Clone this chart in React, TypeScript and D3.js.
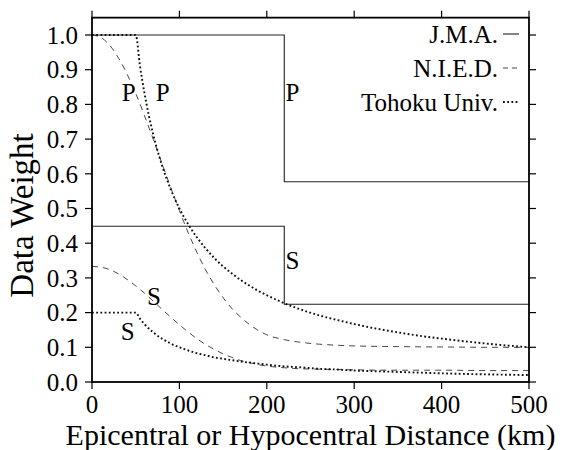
import React from "react";
import * as d3 from "d3";

// ---- data ----
const jmaDist = [0, 220, 220, 500];
const jmaP = [1.0, 1.0, 0.577, 0.577];
const jmaS = [0.449, 0.449, 0.224, 0.224];

const niedDist = [0, 10, 20, 30, 40, 50, 60, 70, 80, 90, 100, 110, 120, 130, 140, 150, 160, 170, 180, 190, 200, 220, 240, 260, 280, 300, 350, 400, 450, 500];
const niedP = [1.0, 0.993, 0.971, 0.935, 0.888, 0.832, 0.768, 0.7, 0.63, 0.561, 0.494, 0.431, 0.374, 0.323, 0.28, 0.243, 0.212, 0.187, 0.166, 0.149, 0.136, 0.122, 0.114, 0.109, 0.106, 0.104, 0.102, 0.101, 0.1, 0.1];
const niedS = [0.333, 0.331, 0.324, 0.312, 0.296, 0.277, 0.256, 0.233, 0.21, 0.187, 0.165, 0.144, 0.125, 0.108, 0.094, 0.081, 0.071, 0.062, 0.056, 0.05, 0.046, 0.041, 0.038, 0.037, 0.036, 0.035, 0.034, 0.034, 0.033, 0.033];

const tohokuDist = [0, 50, 55, 60, 70, 80, 90, 100, 110, 120, 130, 140, 150, 160, 170, 180, 190, 200, 220, 240, 260, 280, 300, 325, 350, 375, 400, 450, 500];
const tohokuP = [1.0, 1.0, 0.909, 0.833, 0.714, 0.625, 0.556, 0.5, 0.455, 0.417, 0.385, 0.357, 0.333, 0.313, 0.294, 0.278, 0.263, 0.25, 0.227, 0.208, 0.192, 0.179, 0.167, 0.154, 0.143, 0.133, 0.125, 0.111, 0.1];
const tohokuS = [0.2, 0.2, 0.182, 0.167, 0.143, 0.125, 0.111, 0.1, 0.091, 0.083, 0.077, 0.071, 0.067, 0.063, 0.059, 0.056, 0.053, 0.05, 0.045, 0.042, 0.038, 0.036, 0.033, 0.031, 0.029, 0.027, 0.025, 0.022, 0.02];

const xTicks = [0, 100, 200, 300, 400, 500];
const yTicks = [0, 0.1, 0.2, 0.3, 0.4, 0.5, 0.6, 0.7, 0.8, 0.9, 1.0];
const legendNames = ["J.M.A.", "N.I.E.D.", "Tohoku Univ."];

// labels: [text, distance, weight]
const curveLabels: [string, number, number][] = [
  ["P", 34, 0.81],
  ["P", 73, 0.81],
  ["P", 221.5, 0.81],
  ["S", 221.5, 0.325],
  ["S", 63, 0.222],
  ["S", 33, 0.122],
];

const W = 564;
const H = 450;
const FONT = "'Liberation Serif', 'Times New Roman', serif";

export default function App() {
  const x = d3.scaleLinear().domain([0, 500]).range([92, 529]);
  const y = d3.scaleLinear().domain([0, 1]).range([382, 35]);
  const yTop = y(1.05);

  const mk = (xs: number[], ys: number[], curve: any) =>
    d3
      .line<number>()
      .x((_, i) => x(xs[i]))
      .y((v) => y(v))
      .curve(curve)(ys) as string;

  const styles = {
    jma: { stroke: "#222", strokeWidth: 1.1, dash: undefined as string | undefined },
    nied: { stroke: "#333", strokeWidth: 0.9, dash: "6,5" },
    tohoku: { stroke: "#111", strokeWidth: 1.9, dash: "1.8,2.4" },
  };

  const series = [
    { d: mk(jmaDist, jmaP, d3.curveLinear), s: styles.jma },
    { d: mk(jmaDist, jmaS, d3.curveLinear), s: styles.jma },
    { d: mk(niedDist, niedP, d3.curveMonotoneX), s: styles.nied },
    { d: mk(niedDist, niedS, d3.curveMonotoneX), s: styles.nied },
    { d: mk(tohokuDist, tohokuP, d3.curveMonotoneX), s: styles.tohoku },
    { d: mk(tohokuDist, tohokuS, d3.curveMonotoneX), s: styles.tohoku },
  ];

  const x0 = x(0);
  const x1 = x(500);
  const yb = y(0);
  const tickLen = 7;

  const legendRows = [
    { name: legendNames[0], s: styles.jma, base: 43 },
    { name: legendNames[1], s: styles.nied, base: 77 },
    { name: legendNames[2], s: styles.tohoku, base: 111 },
  ];

  return (
    <svg
      width={W}
      height={H}
      style={{ position: "absolute", left: 0, top: 0, background: "#fff" }}
      fontFamily={FONT}
    >
      <rect x={0} y={0} width={W} height={H} fill="#fff" />
      {/* curves */}
      {series.map((sr, i) => (
        <path
          key={i}
          d={sr.d}
          fill="none"
          stroke={sr.s.stroke}
          strokeWidth={sr.s.strokeWidth}
          strokeDasharray={sr.s.dash}
        />
      ))}

      {/* frame */}
      <rect x={x0} y={yTop} width={x1 - x0} height={yb - yTop} fill="none" stroke="#000" strokeWidth={1.8} />

      {/* x ticks */}
      {xTicks.map((t) => (
        <g key={"xt" + t}>
          <line x1={x(t)} x2={x(t)} y1={yb} y2={yb + tickLen} stroke="#000" strokeWidth={1.2} />
          <line x1={x(t)} x2={x(t)} y1={yTop} y2={yTop - tickLen} stroke="#000" strokeWidth={1.2} />
          <text x={x(t)} y={413} textAnchor="middle" fontSize={25} fill="#000">
            {t}
          </text>
        </g>
      ))}

      {/* y ticks */}
      {yTicks.map((t) => (
        <g key={"yt" + t}>
          <line x1={x0} x2={x0 - tickLen} y1={y(t)} y2={y(t)} stroke="#000" strokeWidth={1.2} />
          <line x1={x1} x2={x1 + tickLen} y1={y(t)} y2={y(t)} stroke="#000" strokeWidth={1.2} />
          <text x={78} y={y(t)} dy="0.35em" textAnchor="end" fontSize={25} fill="#000">
            {d3.format(".1f")(t)}
          </text>
        </g>
      ))}

      {/* curve labels */}
      {curveLabels.map(([t, dx, wv], i) => (
        <text key={"cl" + i} x={x(dx)} y={y(wv)} fontSize={25} fill="#000">
          {t}
        </text>
      ))}

      {/* legend */}
      {legendRows.map((r, i) => (
        <g key={"lg" + i}>
          <text x={498} y={r.base} textAnchor="end" fontSize={25} fill="#000">
            {r.name}
          </text>
          <line
            x1={503}
            x2={519}
            y1={r.base - 9}
            y2={r.base - 9}
            stroke={r.s.stroke}
            strokeWidth={r.s.strokeWidth}
            strokeDasharray={r.s.dash === "6,5" ? "5,4" : r.s.dash}
          />
        </g>
      ))}

      {/* axis titles */}
      <text x={(x0 + x1) / 2} y={445} textAnchor="middle" fontSize={30} fill="#000">
        Epicentral or Hypocentral Distance (km)
      </text>
      <text
        transform={`translate(33, ${y(0.48)}) rotate(-90)`}
        textAnchor="middle"
        fontSize={33}
        fill="#000"
      >
        Data Weight
      </text>
    </svg>
  );
}
